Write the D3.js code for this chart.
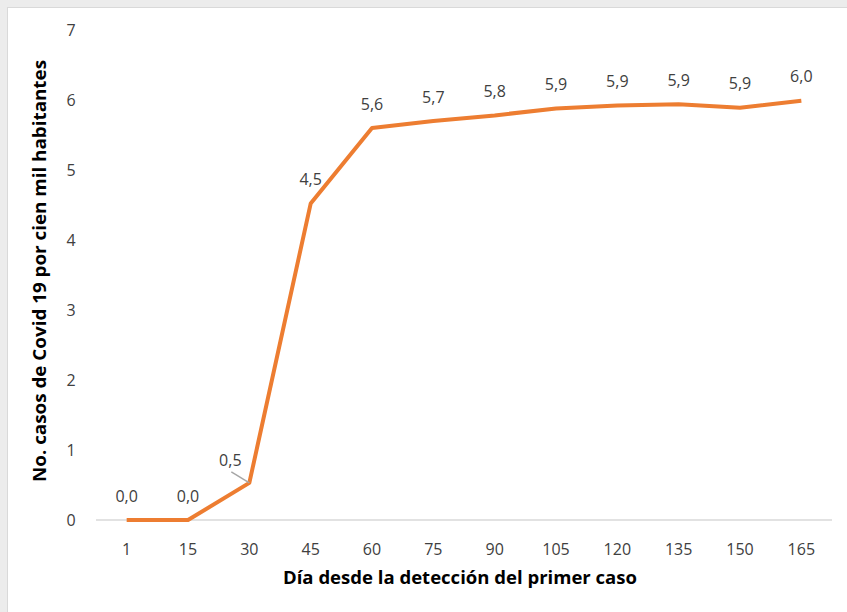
<!DOCTYPE html>
<html><head><meta charset="utf-8">
<script src="https://cdn.jsdelivr.net/npm/d3@7"></script>
<style>
html,body{margin:0;padding:0;background:#ececec;}
svg{display:block;}
text{font-family:"Open Sans","Noto Sans",sans-serif;fill:#404040;}
</style></head>
<body>
<svg id="c" width="847" height="612"></svg>
<script>
const categories = ["1","15","30","45","60","75","90","105","120","135","150","165"];
const values = [0.0, 0.0, 0.53, 4.52, 5.6, 5.7, 5.78, 5.88, 5.92, 5.94, 5.89, 5.99];
const yTicks = [0,1,2,3,4,5,6,7];
const xTitle = "Día desde la detección del primer caso";
const yTitle = "No. casos de Covid 19 por cien mil habitantes";

const svg = d3.select("#c");
svg.append("rect").attr("x",0).attr("y",0).attr("width",847).attr("height",612).attr("fill","#ececec");
svg.append("rect").attr("x",7.5).attr("y",7.5).attr("width",845).attr("height",610).attr("fill","#ffffff").attr("stroke","#d9d9d9").attr("stroke-width",1);

const x = d3.scaleBand().domain(categories).range([96,832]);
const y = d3.scaleLinear().domain([0,7]).range([520,30]);

// y tick labels
svg.append("g").selectAll("text").data(yTicks).join("text")
  .attr("x",71).attr("y",d=>y(d)).attr("dy","0.35em")
  .attr("text-anchor","middle").attr("font-size",16).text(d=>d);

// baseline
svg.append("line").attr("x1",96).attr("x2",832).attr("y1",y(0)).attr("y2",y(0))
  .attr("stroke","#d9d9d9").attr("stroke-width",1.5);

// x tick labels
svg.append("g").selectAll("text").data(categories).join("text")
  .attr("x",d=>x(d)+x.bandwidth()/2).attr("y",549).attr("dy","0.35em")
  .attr("text-anchor","middle").attr("font-size",16).text(d=>d);

// line
const line = d3.line().x((d,i)=>x(categories[i])+x.bandwidth()/2).y(d=>y(d));
svg.append("path").datum(values).attr("d",line).attr("fill","none")
  .attr("stroke","#ED7D31").attr("stroke-width",4).attr("stroke-linejoin","round");

// data labels
const fmt = v => v.toFixed(1).replace(".",",");
const lbl = svg.append("g");
values.forEach((v,i)=>{
  const cx = x(categories[i])+x.bandwidth()/2;
  let lx = cx, ly = y(v)-24;
  if (i===2) {
    lx = cx-19; ly = y(v)-23;
    lbl.append("line").attr("x1",cx-18).attr("y1",y(v)-11).attr("x2",cx).attr("y2",y(v))
      .attr("stroke","#a6a6a6").attr("stroke-width",1.5);
  }
  lbl.append("text").attr("x",lx).attr("y",ly).attr("dy","0.35em")
    .attr("text-anchor","middle").attr("font-size",16).text(fmt(v));
});

// axis titles
svg.append("text").attr("x",460).attr("y",578).attr("dy","0.35em")
  .attr("text-anchor","middle").attr("font-size",17).attr("font-weight","bold")
  .style("fill","#000")
  .attr("textLength",354).attr("lengthAdjust","spacingAndGlyphs").text(xTitle);
svg.append("text").attr("transform","translate(40,271) rotate(-90)").attr("dy","0.35em")
  .attr("text-anchor","middle").attr("font-size",17).attr("font-weight","bold")
  .style("fill","#000")
  .attr("textLength",422).attr("lengthAdjust","spacingAndGlyphs").text(yTitle);
</script>
</body></html>
